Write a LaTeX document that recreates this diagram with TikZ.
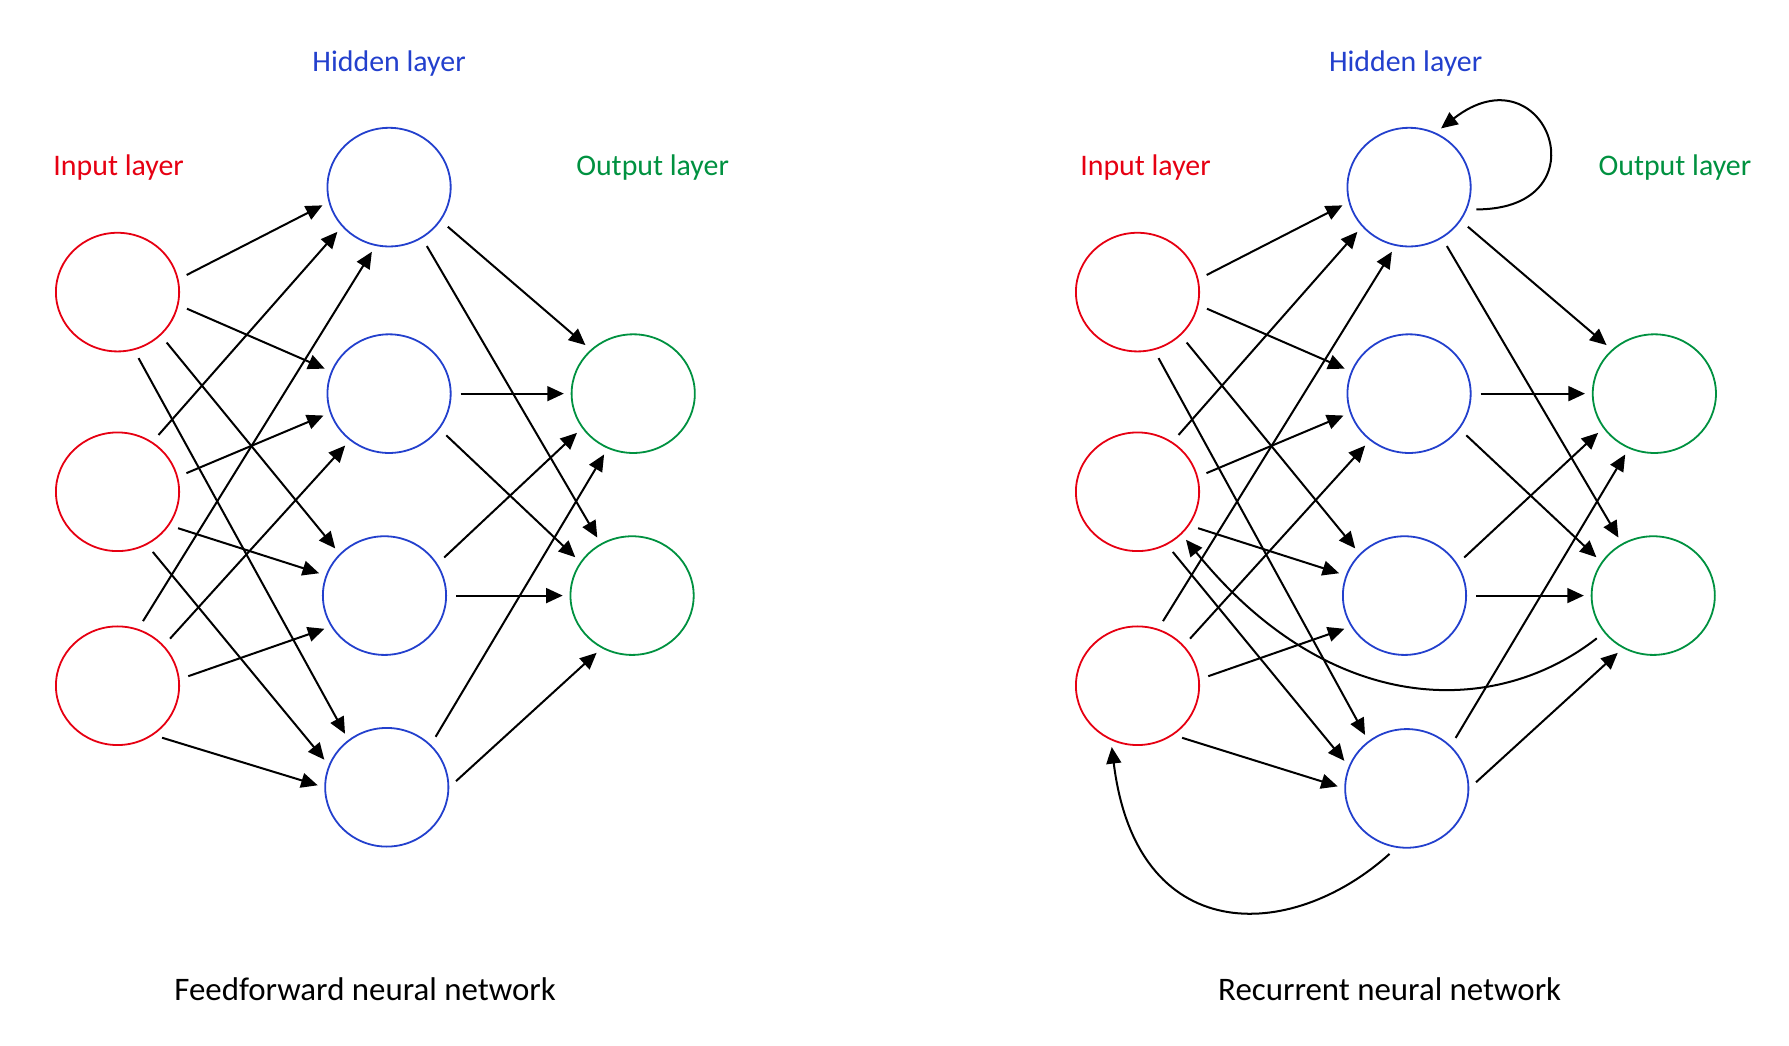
\documentclass[tikz,border=0pt]{standalone}
\usepackage{fontspec}
\setmainfont{Carlito}
\usepackage{tikz}
\usetikzlibrary{arrows.meta,shapes.geometric}
\definecolor{inred}{RGB}{230,0,18}
\definecolor{hidblue}{RGB}{35,64,205}
\definecolor{outgreen}{RGB}{0,145,64}

\begin{document}
\begin{tikzpicture}[x=0.1mm,y=0.1mm,
	neuron/.style={ellipse,draw,line width=0.45pt,minimum width=10.8mm,minimum height=10.4mm,inner sep=0pt},
	innode/.style={neuron,draw=inred},
	hidnode/.style={neuron,draw=hidblue},
	outnode/.style={neuron,draw=outgreen},
	layerlabel/.style={font=\fontsize{7.45}{9}\selectfont},
	nettitle/.style={font=\fontsize{8.2}{10}\selectfont},
	link/.style={-{Triangle[length=1.45mm,width=1.3mm]},line width=0.5pt,shorten <=0.8mm,shorten >=0.6mm}]
		\useasboundingbox (0,0) rectangle (1568,-916);

		\node[innode] (fi1) at (103,-256) {};
		\node[innode] (fi2) at (103,-431) {};
		\node[innode] (fi3) at (103,-601) {};
		\node[hidnode] (fh1) at (341,-164) {};
		\node[hidnode] (fh2) at (341,-345) {};
		\node[hidnode] (fh3) at (337,-522) {};
		\node[hidnode] (fh4) at (339,-690) {};
		\node[outnode] (fo1) at (555,-345) {};
		\node[outnode] (fo2) at (554,-522) {};

		\node[layerlabel,text=inred] (fin) at (104,-147) {Input layer};
		\node[layerlabel,text=hidblue] (fhid) at (341,-56) {Hidden layer};
		\node[layerlabel,text=outgreen] (fout) at (572,-147) {Output layer};
		\node[nettitle] (ftitle) at (320,-867) {Feedforward neural network};

		\draw[link] (fi1.12) -- (fh1.194);
		\draw[link] (fi1.-12) -- (fh2.159);
		\draw[link] (fi1.-45) -- (fh3.137);
		\draw[link] (fi1.-74) -- (fh4.129);
		\draw[link] (fi2.55) -- (fh1.220);
		\draw[link] (fi2.14) -- (fh2.198);
		\draw[link] (fi2.-33) -- (fh3.161);
		\draw[link] (fi2.-61) -- (fh4.159);
		\draw[link] (fi3.70) -- (fh1.257);
		\draw[link] (fi3.41) -- (fh2.230);
		\draw[link] (fi3.6) -- (fh3.210);
		\draw[link] (fi3.-54) -- (fh4.180);
		\draw[link] (fh1.-33) -- (fo1.134);
		\draw[link] (fh1.-57) -- (fo2.121);
		\draw[link] (fh2.0) -- (fo1.180);
		\draw[link] (fh2.-35) -- (fo2.147);
		\draw[link] (fh3.31) -- (fo1.214);
		\draw[link] (fh3.0) -- (fo2.180);
		\draw[link] (fh4.44) -- (fo1.245);
		\draw[link] (fh4.0) -- (fo2.240);

		\node[innode] (ri1) at (997,-256) {};
		\node[innode] (ri2) at (997,-431) {};
		\node[innode] (ri3) at (997,-601) {};
		\node[hidnode] (rh1) at (1235,-164) {};
		\node[hidnode] (rh2) at (1235,-345) {};
		\node[hidnode] (rh3) at (1231,-522) {};
		\node[hidnode] (rh4) at (1233,-691) {};
		\node[outnode] (ro1) at (1450,-345) {};
		\node[outnode] (ro2) at (1449,-522) {};

		\node[layerlabel,text=inred] (rin) at (1004,-147) {Input layer};
		\node[layerlabel,text=hidblue] (rhid) at (1232,-56) {Hidden layer};
		\node[layerlabel,text=outgreen] (rout) at (1468,-147) {Output layer};
		\node[nettitle] (rtitle) at (1218,-867) {Recurrent neural network};

		\draw[link] (ri1.12) -- (rh1.194);
		\draw[link] (ri1.-12) -- (rh2.159);
		\draw[link] (ri1.-45) -- (rh3.137);
		\draw[link] (ri1.-74) -- (rh4.129);
		\draw[link] (ri2.55) -- (rh1.220);
		\draw[link] (ri2.14) -- (rh2.198);
		\draw[link] (ri2.-33) -- (rh3.161);
		\draw[link] (ri2.-61) -- (rh4.159);
		\draw[link] (ri3.70) -- (rh1.257);
		\draw[link] (ri3.41) -- (rh2.230);
		\draw[link] (ri3.6) -- (rh3.210);
		\draw[link] (ri3.-54) -- (rh4.180);
		\draw[link] (rh1.-33) -- (ro1.134);
		\draw[link] (rh1.-57) -- (ro2.121);
		\draw[link] (rh2.0) -- (ro1.180);
		\draw[link] (rh2.-35) -- (ro2.147);
		\draw[link] (rh3.31) -- (ro1.214);
		\draw[link] (rh3.0) -- (ro2.180);
		\draw[link] (rh4.44) -- (ro1.245);
		\draw[link] (rh4.0) -- (ro2.240);

		\draw[link] (rh1.-21) to[out=0,in=38,looseness=4.3] (rh1.64);
		\draw[link] (ro2.217) to[out=-142,in=-51,out looseness=0.83,in looseness=1.38] (ri2.-44);
		\draw[link] (rh4.260) to[out=-138,in=-83,out looseness=1.2,in looseness=1.75] (ri3.244);
	\end{tikzpicture}
\end{document}
